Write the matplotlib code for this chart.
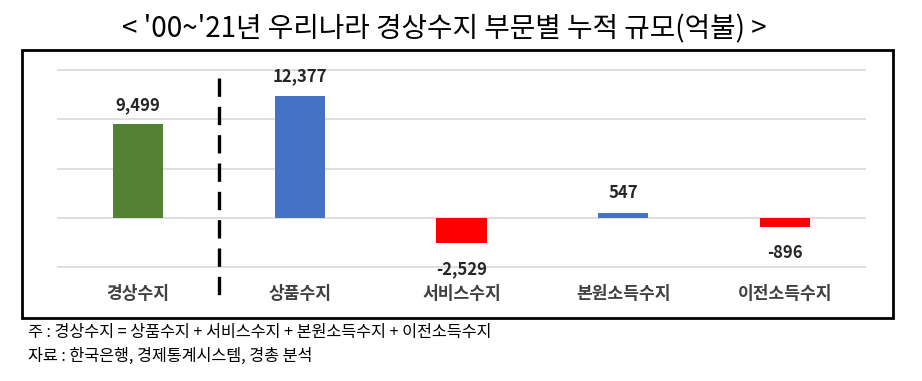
import matplotlib.pyplot as plt
from matplotlib.patches import Rectangle

plt.rcParams['font.family'] = ['Noto Sans CJK KR', 'DejaVu Sans']

categories = ["경상수지", "상품수지", "서비스수지", "본원소득수지", "이전소득수지"]
values = [9499, 12377, -2529, 547, -896]
labels = ["9,499", "12,377", "-2,529", "547", "-896"]
colors = ["#548235", "#4472C4", "#FF0000", "#4472C4", "#FF0000"]
gridvals = [-5000, 0, 5000, 10000, 15000]

fig = plt.figure(figsize=(9.22, 3.81), dpi=100)

# outer frame
fig.patches.append(Rectangle((22/922, 1-318/381), 871/922, 268/381,
                             transform=fig.transFigure, fill=False,
                             edgecolor="black", linewidth=2, zorder=0))

ax = fig.add_axes([57/922, 69/381, 809/922, 257/381])
x = list(range(len(categories)))
ax.set_xlim(-0.5, 4.5)
ax.set_ylim(-9527, 16520)

for g in gridvals:
  ax.axhline(g, color="#d9d9d9", linewidth=1.2, zorder=0)

ax.bar(x, values, width=0.31, color=colors, zorder=2)

for xi, v, lab in zip(x, values, labels):
  off = 14 if v > 0 else -19
  ax.annotate(lab, xy=(xi, v), xytext=(0, off), textcoords="offset points",
              ha="center", va="center", fontsize=12, fontweight="bold",
              color="#262626")

for xi, c in zip(x, categories):
  ax.text(xi, -7700, c, ha="center", va="center", fontsize=12.3,
          fontweight="bold", color="#404040")

ax.plot([0.5, 0.5], [14190, -8108], color="black", linewidth=2.4,
        linestyle=(0, (5.5, 3)), zorder=3)

ax.axis("off")

fig.text(444/922, 1-29/381, "< '00~'21년 우리나라 경상수지 부문별 누적 규모(억불) >",
         ha="center", va="center", fontsize=20, color="black")
fig.text(28/922, 1-333/381, "주 : 경상수지 = 상품수지 + 서비스수지 + 본원소득수지 + 이전소득수지",
         ha="left", va="center", fontsize=11.7, color="black")
fig.text(28/922, 1-356/381, "자료 : 한국은행, 경제통계시스템, 경총 분석",
         ha="left", va="center", fontsize=11.7, color="black")

fig.savefig("out.png", dpi=100)
